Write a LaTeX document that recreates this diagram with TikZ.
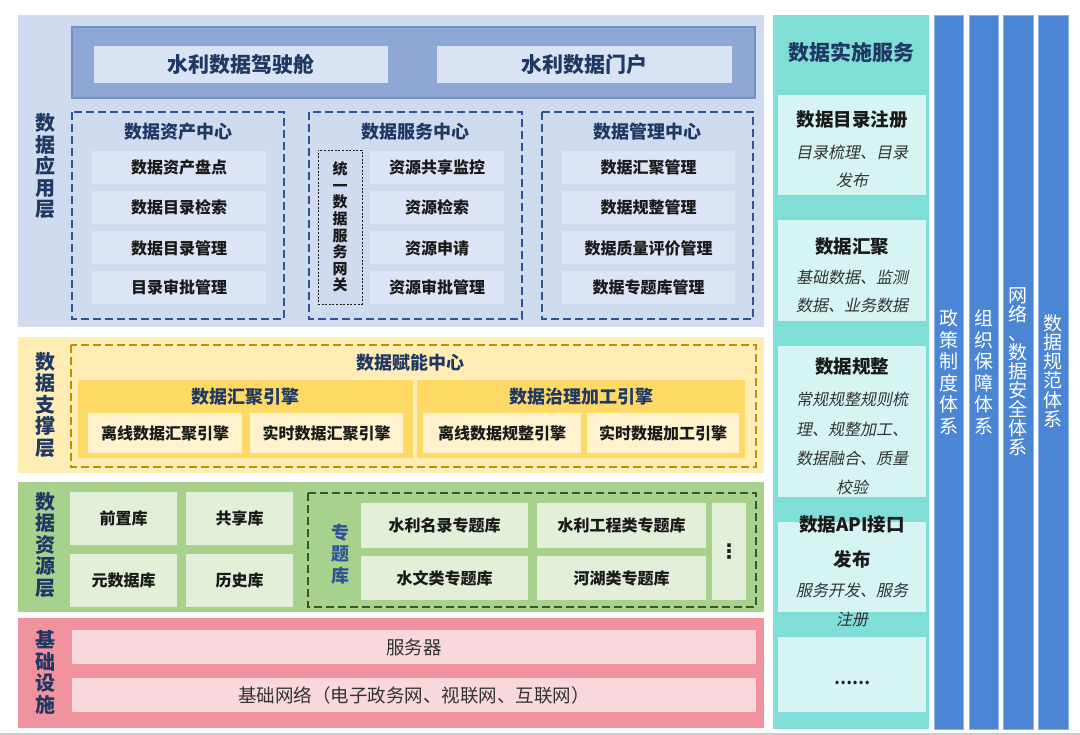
\documentclass[tikz,border=0pt]{standalone}
\usepackage{fontspec}
\setmainfont{Noto Sans CJK SC}
\newfontfamily\slantfont[FakeSlant=0.2]{Noto Sans CJK SC}
\newfontfamily\dejavu{DejaVu Sans}
\definecolor{appbg}{HTML}{D0DBF0}
\definecolor{band}{HTML}{8FA7D4}
\definecolor{bandline}{HTML}{7390C8}
\definecolor{topfill}{HTML}{DAE3F3}
\definecolor{appitem}{HTML}{DCE5F5}
\definecolor{navy}{HTML}{1F3864}
\definecolor{dashblue}{HTML}{2F5597}
\definecolor{supbg}{HTML}{FFEDB5}
\definecolor{gold}{HTML}{BF9000}
\definecolor{engine}{HTML}{FFD966}
\definecolor{supitem}{HTML}{FFF2CC}
\definecolor{resbg}{HTML}{A9D18E}
\definecolor{resitem}{HTML}{E2F0D9}
\definecolor{dkgreen}{HTML}{385723}
\definecolor{infbg}{HTML}{F0939E}
\definecolor{infitem}{HTML}{F9D8DD}
\definecolor{teal}{HTML}{7FDFD7}
\definecolor{tealitem}{HTML}{D5F4F2}
\definecolor{colblue}{HTML}{4A86D4}
\definecolor{colline}{HTML}{8CB1E6}
\definecolor{ink}{HTML}{1A1A1A}
\definecolor{gray1}{HTML}{333333}
\newcommand\bx[6]{\node[#1, minimum width=#4, minimum height=#5] (#2) at (#3) {#6};}
\begin{document}
\begin{tikzpicture}[x=1pt,y=-1pt,
  every node/.style={inner sep=0pt, outer sep=0pt},
  layerlbl/.style={align=center, text=navy, font=\fontsize{20}{21.5}\selectfont\bfseries},
  toptext/.style={fill=topfill, text=navy, font=\fontsize{21}{21}\selectfont\bfseries},
  ctitle/.style={text=navy, font=\fontsize{18}{18}\selectfont\bfseries},
  appbox/.style={fill=appitem, text=ink, font=\fontsize{16}{16}\selectfont\bfseries},
  dashb/.style={draw=dashblue, line width=1.4pt, dash pattern=on 8pt off 4pt},
  supbox/.style={fill=supitem, text=ink, font=\fontsize{16}{16}\selectfont\bfseries},
  engbox/.style={fill=engine},
  resbox/.style={fill=resitem, text=ink, font=\fontsize{16}{16}\selectfont\bfseries},
  infbox/.style={fill=infitem, text=gray1, font=\fontsize{18.5}{18.5}\selectfont},
  tbox/.style={fill=tealitem},
  ttitle/.style={text=ink, font=\fontsize{18.5}{18.5}\selectfont\bfseries},
  tsub/.style={text=gray1, font=\fontsize{16}{16}\slantfont},
  colbox/.style={fill=colblue, draw=colline, line width=0.8pt},
  coltext/.style={align=center, text=white, font=\fontsize{19}{21.5}\selectfont},
]
\useasboundingbox (0,0) rectangle (1080,735);
\draw[black!20, line width=1.5pt] (0,734) -- (1080,734);

% ---------- application layer ----------
\fill[appbg] (18,15) rectangle (764,327);
\draw[fill=band, draw=bandline, line width=1.2pt] (72,27) rectangle (755,98);
\bx{toptext}{cockpit}{241,64.5}{294}{37}{水利数据驾驶舱}
\bx{toptext}{portal}{584.5,64.5}{295}{37}{水利数据门户}
\node[layerlbl] (applbl) at (45,166.5) {数\\据\\应\\用\\层};

\draw[dashb] (72,112) rectangle (284,319);
\draw[dashb] (309,112) rectangle (522,319);
\draw[dashb] (542,112) rectangle (753,319);
\node[ctitle] (assett) at (178,132) {数据资产中心};
\node[ctitle] (servt) at (415.5,132) {数据服务中心};
\node[ctitle] (mgmtt) at (647.5,132) {数据管理中心};

\bx{appbox}{a1}{179,167.5}{174}{33}{数据资产盘点}
\bx{appbox}{a2}{179,207.5}{174}{33}{数据目录检索}
\bx{appbox}{a3}{179,248}{174}{33}{数据目录管理}
\bx{appbox}{a4}{179,287.5}{174}{33}{目录审批管理}

\node[draw=ink, line width=0.9pt, dash pattern=on 2pt off 1.6pt, minimum width=44, minimum height=154, align=center, text=ink, font=\fontsize{15}{16.6}\selectfont\bfseries] (gw) at (340,227) {统\\一\\数\\据\\服\\务\\网\\关};
\bx{appbox}{s1}{437,167.5}{134}{33}{资源共享监控}
\bx{appbox}{s2}{437,207.5}{134}{33}{资源检索}
\bx{appbox}{s3}{437,248}{134}{33}{资源申请}
\bx{appbox}{s4}{437,287.5}{134}{33}{资源审批管理}

\bx{appbox}{m1}{648.5,167.5}{173}{33}{数据汇聚管理}
\bx{appbox}{m2}{648.5,207.5}{173}{33}{数据规整管理}
\bx{appbox}{m3}{648.5,248}{173}{33}{数据质量评价管理}
\bx{appbox}{m4}{648.5,287.5}{173}{33}{数据专题库管理}

% ---------- support layer ----------
\fill[supbg] (18,337) rectangle (764,473);
\node[layerlbl] (suplbl) at (45,405) {数\\据\\支\\撑\\层};
\draw[draw=gold, line width=1.4pt, dash pattern=on 8pt off 4pt] (71,345) rectangle (756,467);
\node[ctitle] (enabt) at (410.5,363) {数据赋能中心};
\bx{engbox}{eng1}{245.5,419}{335}{78}{}
\bx{engbox}{eng2}{581,419}{328}{78}{}
\node[ctitle] (eng1t) at (245.5,397) {数据汇聚引擎};
\node[ctitle] (eng2t) at (581,397) {数据治理加工引擎};
\bx{supbox}{e1}{165,433}{154}{40}{离线数据汇聚引擎}
\bx{supbox}{e2}{326.5,433}{153}{40}{实时数据汇聚引擎}
\bx{supbox}{e3}{502,433}{158}{40}{离线数据规整引擎}
\bx{supbox}{e4}{663,433}{152}{40}{实时数据加工引擎}

% ---------- resource layer ----------
\fill[resbg] (18,482) rectangle (764,612);
\node[layerlbl] (reslbl) at (45,545) {数\\据\\资\\源\\层};
\bx{resbox}{r1}{123.5,518.5}{107}{53}{前置库}
\bx{resbox}{r2}{239.5,518.5}{107}{53}{共享库}
\bx{resbox}{r3}{123.5,580.5}{107}{53}{元数据库}
\bx{resbox}{r4}{239.5,580.5}{107}{53}{历史库}
\draw[draw=dkgreen, line width=1.4pt, dash pattern=on 8pt off 4pt] (308,493) rectangle (756,607);
\node[align=center, text=dashblue, font=\fontsize{18}{21.5}\selectfont\bfseries] (ztlbl) at (340,554) {专\\题\\库};
\bx{resbox}{z1}{444.5,525.5}{167}{45}{水利名录专题库}
\bx{resbox}{z2}{444.5,578}{167}{44}{水文类专题库}
\bx{resbox}{z3}{621.5,525.5}{169}{45}{水利工程类专题库}
\bx{resbox}{z4}{621.5,578}{169}{44}{河湖类专题库}
\node[fill=resitem, minimum width=34, minimum height=97, text=ink, font=\fontsize{20}{20}\dejavu\bfseries] (zmore) at (729,551.5) {⋮};

% ---------- infrastructure layer ----------
\fill[infbg] (18,618) rectangle (764,728);
\node[layerlbl] (inflbl) at (45,672.5) {基\\础\\设\\施};
\bx{infbox}{srv}{414,647}{684}{34}{服务器}
\bx{infbox}{net}{414,695}{684}{34}{基础网络（电子政务网、视联网、互联网）}

% ---------- implementation services ----------
\fill[teal] (773,15) rectangle (929,729);
\node[text=navy, font=\fontsize{21}{21}\selectfont\bfseries] (implt) at (851,52) {数据实施服务};
\bx{tbox}{t1}{852,145}{148}{100}{}
\bx{tbox}{t2}{852,270.5}{148}{101}{}
\bx{tbox}{t3}{852,421.5}{148}{151}{}
\bx{tbox}{t4}{852,567}{148}{90}{}
\bx{tbox}{t5}{852,674.5}{148}{75}{}
\node[ttitle] (t1a) at (852,120) {数据目录注册};
\node[tsub] (t1b) at (852,152) {目录梳理、目录};
\node[tsub] (t1c) at (852,180) {发布};
\node[ttitle] (t2a) at (852,247) {数据汇聚};
\node[tsub] (t2b) at (852,277) {基础数据、监测};
\node[tsub] (t2c) at (852,305) {数据、业务数据};
\node[ttitle] (t3a) at (852,367) {数据规整};
\node[tsub] (t3b) at (852,399) {常规规整规则梳};
\node[tsub] (t3c) at (852,429) {理、规整加工、};
\node[tsub] (t3d) at (852,458) {数据融合、质量};
\node[tsub] (t3e) at (852,487) {校验};
\node[ttitle] (t4a) at (852,525) {数据API接口};
\node[ttitle] (t4b) at (852,559) {发布};
\node[tsub] (t4c) at (852,590) {服务开发、服务};
\node[tsub] (t4d) at (852,619) {注册};
\node[text=ink, font=\fontsize{16}{16}\selectfont\bfseries] (t5a) at (852,683) {……};

% ---------- system columns ----------
\draw[colbox] (934,15) rectangle (963,729);
\draw[colbox] (969,15) rectangle (998,729);
\draw[colbox] (1003,15) rectangle (1033,729);
\draw[colbox] (1038,15) rectangle (1068,729);
\node[coltext] (c1) at (948.5,372) {政\\策\\制\\度\\体\\系};
\node[coltext] (c2) at (983.5,372) {组\\织\\保\\障\\体\\系};
\node[coltext, font=\fontsize{19}{19}\selectfont] (c3) at (1018,372) {网\\络\\、\\数\\据\\安\\全\\体\\系};
\node[coltext, font=\fontsize{19}{19.2}\selectfont] (c4) at (1053,371) {数\\据\\规\\范\\体\\系};
\end{tikzpicture}
\end{document}
